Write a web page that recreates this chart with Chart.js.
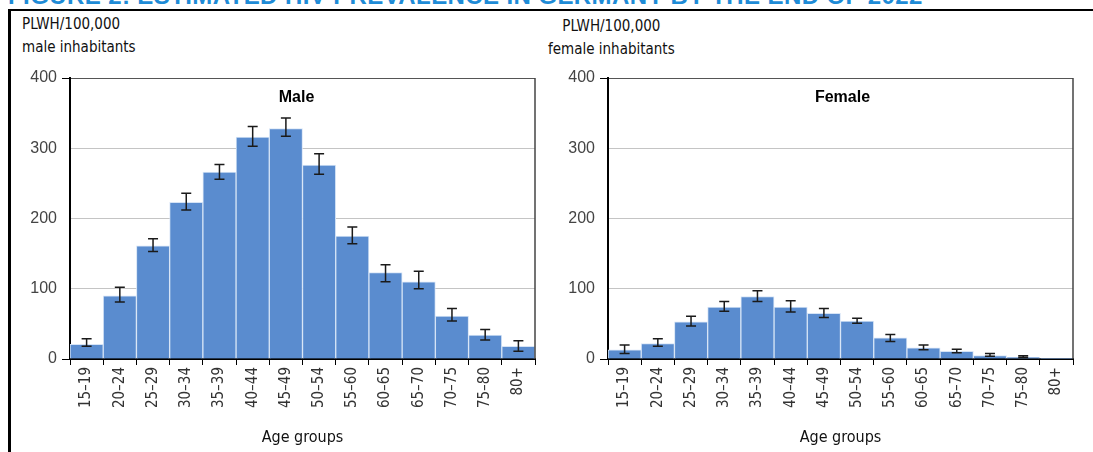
<!DOCTYPE html>
<html>
<head>
<meta charset="utf-8">
<script src="https://cdn.jsdelivr.net/npm/chart.js@4"></script>
<style>
  body { margin: 0; width: 1093px; height: 452px; overflow: hidden; background: #fff; position: relative; font-family: "Liberation Sans Narrow", "DejaVu Sans Condensed", "Liberation Sans", sans-serif; }
  .title { position: absolute; left: 8px; top: -18px; font: bold 24px "Liberation Sans", Arial, sans-serif; color: #1e8bd6; white-space: nowrap; letter-spacing: 0.4px; }
  .frame { position: absolute; left: 8px; top: 9px; width: 1200px; height: 600px; border-top: 2px solid #000; border-left: 3px solid #000; background: #fff; }
  .ylab { position: absolute; font-size: 15px; color: #111; line-height: 23px; }
  canvas { position: absolute; }
</style>
</head>
<body>
<div class="title">FIGURE 2: ESTIMATED HIV PREVALENCE IN GERMANY BY THE END OF 2022</div>
<div class="frame"></div>
<div class="ylab" style="left:22px; top:13px;">PLWH/100,000<br>male inhabitants</div>
<div class="ylab" style="left:548px; top:15px; text-align:center;">PLWH/100,000<br>female inhabitants</div>
<canvas id="maleChart" width="535" height="392" style="left:10px; top:60px;"></canvas>
<canvas id="femaleChart" width="535" height="392" style="left:548px; top:60px;"></canvas>
<script>
// Age groups and estimated prevalence per 100,000 inhabitants
const ageGroups = ["15–19", "20–24", "25–29", "30–34", "35–39", "40–44", "45–49", "50–54", "55–60", "60–65", "65–70", "70–75", "75–80", "80+"];
const yTicks = [0, 100, 200, 300, 400];

const maleValues = [21, 90, 161, 223, 266, 316, 328, 276, 175, 123, 110, 61, 34, 18];
const maleLow = [18, 81, 153, 212, 256, 303, 317, 263, 164, 110, 100, 54, 27, 11];
const maleHigh = [29, 102, 171, 236, 277, 331, 343, 292, 188, 134, 125, 72, 42, 26];

const femaleValues = [13, 22, 53, 74, 89, 74, 65, 54, 30, 16, 11, 5, 2.5, 1];
const femaleLow = [8, 18, 47, 68, 82, 67, 59, 51, 25, 13, 9, 4, 2, null];
const femaleHigh = [20, 29, 61, 82, 97, 83, 72, 58, 35, 20, 14, 8, 4.5, null];

// error bars + label inside plot + right border
const extras = {
    id: "extras",
    afterDatasetsDraw(chart, args, opts) {
        const ctx = chart.ctx;
        const y = chart.scales.y;
        const meta = chart.getDatasetMeta(0);
        ctx.save();
        ctx.strokeStyle = "#1a1a1a";
        ctx.lineWidth = 1.5;
        meta.data.forEach((bar, i) => {
            if (opts.low[i] == null) return;
            const y1 = y.getPixelForValue(opts.low[i]);
            const y2 = y.getPixelForValue(opts.high[i]);
            ctx.beginPath();
            ctx.moveTo(bar.x, y1); ctx.lineTo(bar.x, y2);
            ctx.moveTo(bar.x - 5, y1); ctx.lineTo(bar.x + 5, y1);
            ctx.moveTo(bar.x - 5, y2); ctx.lineTo(bar.x + 5, y2);
            ctx.stroke();
        });
        const a = chart.chartArea;
        ctx.strokeStyle = "#444";
        ctx.lineWidth = 1.5;
        ctx.beginPath();
        ctx.moveTo(a.right, a.top); ctx.lineTo(a.right, a.bottom);
        ctx.stroke();
        ctx.fillStyle = "#000";
        ctx.font = "bold 16px 'Liberation Sans', Arial, sans-serif";
        ctx.textAlign = "center";
        ctx.textBaseline = "middle";
        ctx.fillText(opts.label, (a.left + a.right) / 2 + opts.shift, a.top + 20);
        ctx.restore();
    }
};

function makeChart(id, label, values, low, high, shift) {
    const ctx = document.getElementById(id).getContext("2d");
    return new Chart(ctx, {
        type: "bar",
        data: {
            labels: ageGroups,
            datasets: [{
                data: values,
                backgroundColor: "#5a8ccf",
                borderColor: "#d6e4f6",
                borderWidth: 1,
                categoryPercentage: 1,
                barPercentage: 1,
            }],
        },
        plugins: [extras],
        options: {
            responsive: false,
            animation: false,
            layout: { padding: { top: 18, right: 10, left: 0, bottom: 0 } },
            plugins: {
                legend: { display: false },
                tooltip: { enabled: false },
                extras: { low: low, high: high, label: label, shift: shift },
            },
            scales: {
                x: {
                    afterFit: (s) => { s.height = 93; },
                    grid: { drawOnChartArea: false, offset: true, tickLength: 6, tickColor: "#000" },
                    border: { color: "#000", width: 2 },
                    ticks: {
                        minRotation: 90, maxRotation: 90, padding: 2,
                        color: "#333",
                        font: { family: "'Liberation Sans Narrow', 'DejaVu Sans Condensed', sans-serif", size: 15 },
                    },
                    title: {
                        display: true, text: "Age groups", color: "#111",
                        font: { family: "'Liberation Sans Narrow', 'DejaVu Sans Condensed', sans-serif", size: 16 },
                        padding: { top: 0, bottom: 5 },
                    },
                },
                y: {
                    min: 0, max: 400,
                    afterFit: (s) => { s.width = 60; },
                    afterBuildTicks: (s) => { s.ticks = yTicks.map((v) => ({ value: v })); },
                    grid: {
                        color: (c) => c.tick.value === 400 ? "#555" : "#c4c4c4",
                        tickColor: (c) => (c.tick.value === 0 || c.tick.value === 400) ? "#000" : "rgba(0,0,0,0)",
                        tickLength: 8,
                    },
                    border: { color: "#000", width: 2 },
                    ticks: {
                        padding: 5, color: "#444",
                        font: { family: "'Liberation Sans', Arial, sans-serif", size: 16 },
                    },
                },
            },
        },
    });
}

makeChart("maleChart", "Male", maleValues, maleLow, maleHigh, -6);
makeChart("femaleChart", "Female", femaleValues, femaleLow, femaleHigh, 2);
</script>
</body>
</html>
